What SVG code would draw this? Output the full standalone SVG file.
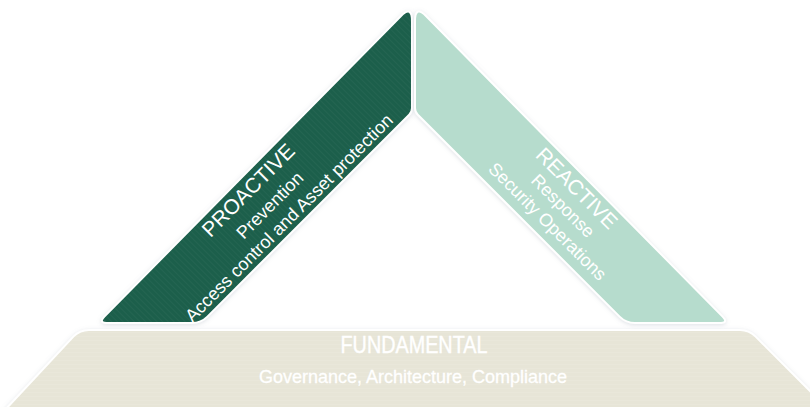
<svg xmlns="http://www.w3.org/2000/svg" width="810" height="407" viewBox="0 0 810 407">
  <defs>
    <filter id="sh" x="-10%" y="-10%" width="120%" height="120%">
      <feDropShadow dx="0" dy="1" stdDeviation="2.2" flood-color="#8f98ab" flood-opacity="0.3"/>
    </filter>
    <pattern id="stripeD" width="4" height="4" patternUnits="userSpaceOnUse" patternTransform="rotate(45)">
      <rect width="4" height="1" fill="#ffffff" fill-opacity="0.035"/>
    </pattern>
    <pattern id="stripeH" width="4" height="4" patternUnits="userSpaceOnUse">
      <rect width="4" height="1" fill="#ffffff" fill-opacity="0.08"/>
    </pattern>
  </defs>
  <style>
    .band { stroke: #ffffff; stroke-width: 2; stroke-linejoin: round; filter: url(#sh); }
    .t { font-family: "Liberation Sans", Arial, sans-serif; fill: #ffffff; text-anchor: middle; }
    .h { font-size: 21px; }
    .s { font-size: 18px; }
  </style>
  <rect width="810" height="407" fill="#ffffff"/>

  <g id="node-fundamental">
    <path class="band" fill="#e7e5d7" d="M 89,330 L 740,330 Q 749,330 755.4,336.4 L 836,417 L 6,417 Q 0,417 4,411 L 73.6,336.4 Q 80,330 89,330 Z"/>
    <path fill="url(#stripeH)" d="M 89,330 L 740,330 Q 749,330 755.4,336.4 L 836,417 L 6,417 Q 0,417 4,411 L 73.6,336.4 Q 80,330 89,330 Z"/>
    <text class="t" x="414" y="353" font-size="23" textLength="147" lengthAdjust="spacingAndGlyphs" stroke="#ffffff" stroke-width="0.4">FUNDAMENTAL</text>
    <text class="t" x="413" y="383" font-size="19" textLength="308" lengthAdjust="spacingAndGlyphs" stroke="#ffffff" stroke-width="0.3">Governance, Architecture, Compliance</text>
  </g>

  <g id="node-proactive">
    <path class="band" fill="#1b5f4b" d="M 108,323 L 192,323 Q 201,323 207.4,316.6 L 409.2,114.8 Q 412,112 412,108 L 412,21 Q 412,5 401,16 L 104.4,316.6 Q 98,323 108,323 Z"/>
    <path fill="url(#stripeD)" d="M 108,323 L 192,323 Q 201,323 207.4,316.6 L 409.2,114.8 Q 412,112 412,108 L 412,21 Q 412,5 401,16 L 104.4,316.6 Q 98,323 108,323 Z"/>
    <text class="t h" transform="translate(248,190) rotate(-45)" y="7.5">PROACTIVE</text>
    <text class="t s" transform="translate(269.5,205) rotate(-45)" y="6.5">Prevention</text>
    <text class="t s" transform="translate(290,219) rotate(-45)" y="4.6">Access control and Asset protection</text>
  </g>

  <g id="node-reactive">
    <path class="band" fill="#b6dccd" d="M 719,323 L 635,323 Q 626,323 619.6,316.6 L 417.8,114.8 Q 415,112 415,108 L 415,21 Q 415,5 426,16 L 722.6,316.6 Q 729,323 719,323 Z"/>
    <text class="t h" transform="translate(577,188) rotate(45)" y="7.5">REACTIVE</text>
    <text class="t s" transform="translate(562,207) rotate(45)" y="4.6">Response</text>
    <text class="t s" transform="translate(546.5,222.5) rotate(45)" y="4.6">Security Operations</text>
  </g>

  <g id="connectors"/>
</svg>
